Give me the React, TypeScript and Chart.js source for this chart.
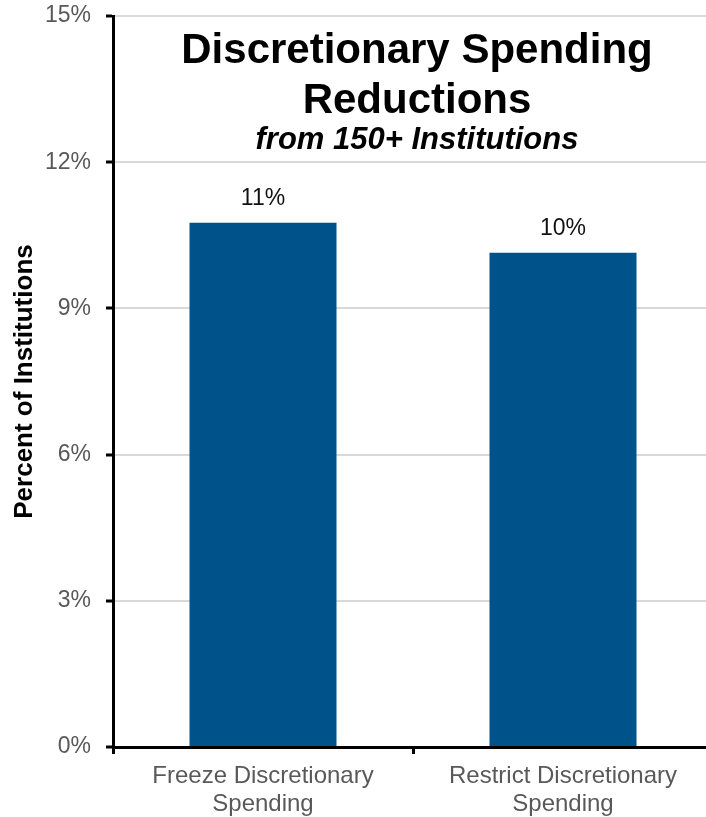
import React, { useEffect, useRef } from "react";
import { Chart, registerables } from "chart.js";

Chart.register(...registerables);

// Survey results: share of institutions taking each action (percent)
const categories: string[][] = [
  ["Freeze Discretionary", "Spending"],
  ["Restrict Discretionary", "Spending"],
];
const percentValues: number[] = [10.76, 10.14];
const yTickStep = 3;
const yMin = 0;
const yMax = 15;

const titleLines: string[] = ["Discretionary Spending", "Reductions"];
const subtitleText = "from 150+ Institutions";
const yAxisTitle = "Percent of Institutions";

const BAR_COLOR = "#00528A";
const FONT = "'Liberation Sans', Arial, Helvetica, sans-serif";

// Draws the title block inside the plot area and the value labels above bars
const overlayPlugin = {
  id: "overlayText",
  afterDatasetsDraw(chart: any) {
    const { ctx, chartArea } = chart;
    const meta = chart.getDatasetMeta(0);
    ctx.save();
    ctx.fillStyle = "#111111";
    ctx.font = `23px ${FONT}`;
    ctx.textAlign = "center";
    ctx.textBaseline = "alphabetic";
    meta.data.forEach((bar: any, i: number) => {
      const v = percentValues[i];
      ctx.fillText(`${Math.round(v)}%`, bar.x, bar.y - 18);
    });

    const cx = (chartArea.left + chartArea.right) / 2 + 4;
    ctx.fillStyle = "#000000";
    ctx.font = `bold 42px ${FONT}`;
    ctx.fillText(titleLines[0], cx, chartArea.top + 47);
    ctx.fillText(titleLines[1], cx, chartArea.top + 97);
    ctx.font = `italic bold 31px ${FONT}`;
    ctx.fillText(subtitleText, cx, chartArea.top + 133);
    ctx.restore();
  },
};

export default function App() {
  const canvasRef = useRef<HTMLCanvasElement | null>(null);

  useEffect(() => {
    document.body.style.margin = "0";
    document.body.style.overflow = "hidden";
    const canvas = canvasRef.current;
    if (!canvas) return;

    const chart = new Chart(canvas, {
      type: "bar",
      data: {
        labels: categories,
        datasets: [
          {
            data: percentValues,
            backgroundColor: BAR_COLOR,
            borderWidth: 0,
            categoryPercentage: 1,
            barPercentage: 0.49,
          },
        ],
      },
      options: {
        responsive: false,
        animation: false,
        devicePixelRatio: 1,
        layout: { padding: { left: 0, top: 16, right: 7, bottom: 0 } },
        plugins: {
          legend: { display: false },
          tooltip: { enabled: false },
          title: { display: false },
        },
        scales: {
          x: {
            offset: true,
            border: { display: true, color: "#000000", width: 3 },
            grid: {
              offset: true,
              drawOnChartArea: false,
              drawTicks: true,
              tickLength: 7,
              tickColor: "#000000",
              tickWidth: 3,
            },
            ticks: {
              color: "#595959",
              padding: 8,
              font: { family: FONT, size: 24, lineHeight: 1.1667 },
              maxRotation: 0,
              autoSkip: false,
            },
            afterFit(scale: any) {
              scale.height = 70;
              scale.paddingLeft = 0;
              scale.paddingRight = 0;
            },
          },
          y: {
            min: yMin,
            max: yMax,
            border: { display: true, color: "#000000", width: 3 },
            grid: {
              color: "#d9d9d9",
              lineWidth: 2,
              drawTicks: true,
              tickLength: 7,
              tickColor: "#000000",
              tickWidth: 3,
            },
            ticks: {
              stepSize: yTickStep,
              color: "#595959",
              padding: 15,
              font: { family: FONT, size: 23 },
              callback: (v: any) => `${v}%`,
            },
            title: {
              display: true,
              text: yAxisTitle,
              color: "#000000",
              font: { family: FONT, size: 26, weight: "bold", lineHeight: 1.2 },
              padding: { top: 9, bottom: 0 },
            },
            afterFit(scale: any) {
              scale.width = 113;
              scale.paddingTop = 0;
              scale.paddingBottom = 0;
            },
          },
        },
      },
      plugins: [overlayPlugin],
    });

    return () => chart.destroy();
  }, []);

  return (
    <div style={{ width: 706, height: 817, overflow: "hidden", position: "relative" }}>
      <canvas ref={canvasRef} width={720} height={817} style={{ display: "block" }} />
    </div>
  );
}
